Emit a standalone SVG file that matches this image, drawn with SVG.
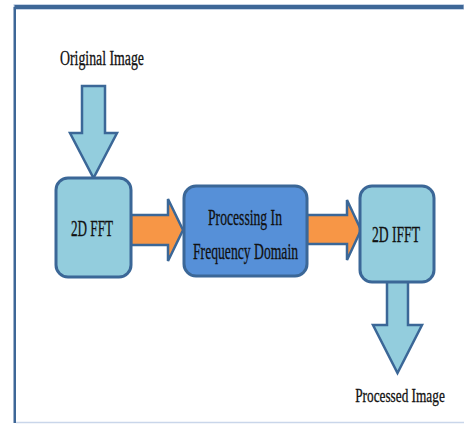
<svg xmlns="http://www.w3.org/2000/svg" width="464" height="425" viewBox="0 0 464 425">
<style>
.lb{fill:#93cddd;stroke:#3b6797;stroke-width:3;stroke-linejoin:round}
.db{fill:#5690d8;stroke:#3b6797;stroke-width:3}
.or{fill:#f79646;stroke:#3b6797;stroke-width:2.5;stroke-linejoin:miter}
.ar{fill:#93cddd;stroke:#3b6797;stroke-width:2.5;stroke-linejoin:miter}
text{font-family:"Liberation Serif","DejaVu Serif",serif;fill:#111;text-anchor:middle;stroke:#111;stroke-width:0.3}
.bt{font-size:23px}
.lt{font-size:20px}
</style>
<rect width="464" height="425" fill="#fff"/>
<g id="frame">
<rect x="14" y="4.5" width="450" height="5" fill="#3e6797" stroke="#c5d3e6" stroke-width="1"/>
<rect x="13.5" y="7" width="2.5" height="416" fill="#3e6797"/>
<line x1="16" y1="422.5" x2="464" y2="422.5" stroke="#c9d6ea" stroke-width="1.5"/>
</g>
<g id="connectors">
<polygon class="ar" points="82,86 105,86 105,133 117,133 93.5,178 70,133 82,133"/>
<polygon class="or" points="131,215 168,215 168,199 183,230 168,261 168,245 131,245"/>
<polygon class="or" points="307,215 347,215 347,200 361,230 347,260 347,244 307,244"/>
<polygon class="ar" points="387,281 408,281 408,325 422,325 397.5,373 373,325 387,325"/>
</g>
<g id="original-image">
<text class="lt" x="102" y="65" textLength="84" lengthAdjust="spacingAndGlyphs">Original Image</text>
</g>
<g id="fft">
<rect class="lb" x="56" y="178" width="75" height="99" rx="12"/>
<text class="bt" x="92" y="236" textLength="42" lengthAdjust="spacingAndGlyphs">2D FFT</text>
</g>
<g id="processing">
<rect class="db" x="184" y="186" width="123" height="90" rx="12"/>
<text class="bt" x="245" y="225" textLength="74" lengthAdjust="spacingAndGlyphs">Processing In</text>
<text class="bt" x="245.5" y="259" textLength="105" lengthAdjust="spacingAndGlyphs">Frequency Domain</text>
</g>
<g id="ifft">
<rect class="lb" x="360" y="186" width="74" height="96" rx="12"/>
<text class="bt" x="396" y="242" textLength="48" lengthAdjust="spacingAndGlyphs">2D IFFT</text>
</g>
<g id="processed-image">
<text style="font-size:19px" transform="translate(400,402) scale(0.7,1)" x="0" y="0">Processed Image</text>
</g>
</svg>
